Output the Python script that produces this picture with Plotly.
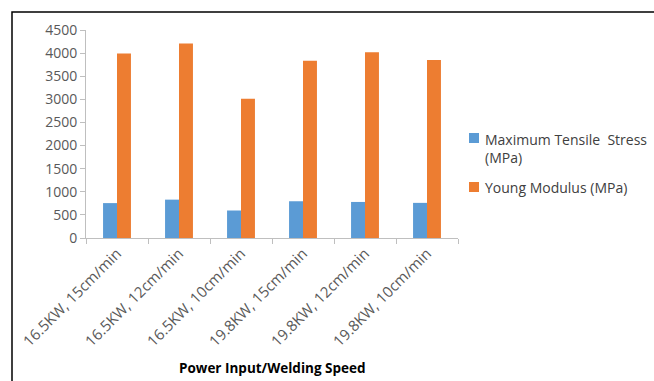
import plotly.graph_objects as go

categories = ["16.5KW, 15cm/min", "16.5KW, 12cm/min", "16.5KW, 10cm/min",
              "19.8KW, 15cm/min", "19.8KW, 12cm/min", "19.8KW, 10cm/min"]
tensile = [755, 830, 595, 795, 780, 760]
young = [3990, 4210, 3010, 3835, 4020, 3850]
y_ticks = [0, 500, 1000, 1500, 2000, 2500, 3000, 3500, 4000, 4500]
series_names = ["Maximum Tensile  Stress<br>(MPa)", "Young Modulus (MPa)"]
series_colors = ["#5B9BD5", "#ED7D31"]

FONT = "Open Sans"
W, H = 654, 381
L, R, T, B = 86, 654 - 458, 30, 381 - 238
pw, ph = W - L - R, H - T - B


def px(x):
    return (x - L) / pw


def py(y):
    return (H - B - y) / ph


fig = go.Figure()
for vals, name, col in zip([tensile, young], series_names, series_colors):
    fig.add_trace(go.Bar(x=categories, y=vals, name=name,
                         marker=dict(color=col, line=dict(width=0))))

fig.update_layout(
    width=W, height=H,
    margin=dict(l=L, r=R, t=T, b=B, pad=0, autoexpand=False),
    paper_bgcolor="white", plot_bgcolor="white",
    barmode="group", bargap=0.55, bargroupgap=0,
    font=dict(family=FONT, size=13, color="#595959"),
    showlegend=False,
    xaxis=dict(type="category", showline=True, linecolor="#BFBFBF", linewidth=1,
               ticks="outside", ticklen=5, tickcolor="#BFBFBF", tickson="boundaries",
               tickangle=-45, showgrid=False, zeroline=False, automargin=False,
               tickfont=dict(family=FONT, size=15, color="#595959")),
    yaxis=dict(range=[0, 4500], tickvals=y_ticks, showline=True, linecolor="#BFBFBF",
               linewidth=1, ticks="outside", ticklen=5, tickcolor="#BFBFBF",
               showgrid=False, zeroline=False, automargin=False,
               tickfont=dict(family=FONT, size=14, color="#595959")),
)

# manual legend
legend_centers = [148, 187]
for name, col, cy in zip(series_names, series_colors, legend_centers):
    sq_y = 138 if cy == 148 else 187
    fig.add_shape(type="rect", xref="paper", yref="paper",
                  x0=px(469), x1=px(479), y0=py(sq_y + 5), y1=py(sq_y - 5),
                  line=dict(width=0), fillcolor=col)
    fig.add_annotation(text=name, xref="paper", yref="paper", x=px(483), y=py(cy),
                       xanchor="left", yanchor="middle", align="left", showarrow=False,
                       font=dict(family=FONT, size=14, color="#404040"))

fig.add_annotation(text="<b>Power Input/Welding Speed</b>", xref="paper", yref="paper",
                   x=0.5, y=py(368), xanchor="center", yanchor="middle",
                   showarrow=False, font=dict(family=FONT, size=13.5, color="#000000"))

fig.add_shape(type="rect", xref="paper", yref="paper",
              x0=px(12), y0=-2, x1=2, y1=py(12),
              line=dict(color="black", width=1.5), fillcolor="rgba(0,0,0,0)", layer="below")

fig.write_html("out.html")
